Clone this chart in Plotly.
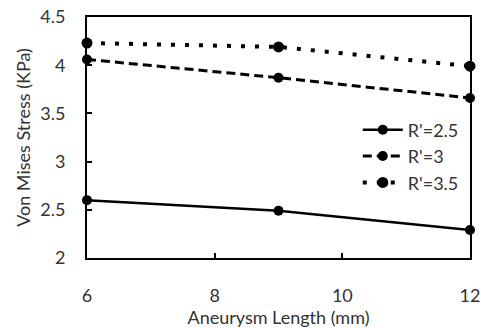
import plotly.graph_objects as go

x_len = [6, 9, 12]
s25 = [2.60, 2.49, 2.29]
s30 = [4.06, 3.87, 3.66]
s35 = [4.23, 4.19, 3.99]
names = ["R'=2.5", "R'=3", "R'=3.5"]
x_ticks = [6, 8, 10, 12]
y_ticks = [2, 2.5, 3, 3.5, 4, 4.5]
y_ticktext = ["2", "2.5", "3", "3.5", "4", "4.5"]

FONT = "Lato"
TXT = "#333333"
fig = go.Figure()
styles = [("solid", 2.5, 10), ("9px,5px", 3, 10), ("4px,10px", 4, 11)]
for ys, nm, (dash, w, ms) in zip([s25, s30, s35], names, styles):
    fig.add_trace(go.Scatter(
        x=x_len, y=ys, name=nm, mode="lines+markers",
        line=dict(color="black", width=w, dash=dash),
        marker=dict(color="black", size=ms, symbol="circle"),
        cliponaxis=False,
    ))

fig.update_layout(
    width=481, height=328,
    margin=dict(l=87, r=11, t=17, b=70, autoexpand=False),
    paper_bgcolor="white", plot_bgcolor="white",
    font=dict(family=FONT, size=18, color=TXT),
    showlegend=True,
    legend=dict(x=0.707, y=0.608, xanchor="left", yanchor="top",
                bgcolor="rgba(0,0,0,0)", font=dict(size=18, color=TXT),
                itemwidth=40, tracegroupgap=0),
)
fig.update_xaxes(
    range=[6, 12], tickvals=x_ticks, ticks="inside", ticklen=5, tickwidth=1.5,
    tickcolor="black", showline=True, linecolor="black", linewidth=2, mirror=True,
    showgrid=False, zeroline=False, ticklabelstandoff=20, ticklabeloverflow="allow",
    automargin=False,
    title=dict(text="Aneurysm Length (mm)", standoff=0, font=dict(size=18, color=TXT)),
    tickfont=dict(size=18, color=TXT),
)
fig.update_yaxes(
    range=[2, 4.5], tickvals=y_ticks, ticktext=y_ticktext,
    ticks="inside", ticklen=5, tickwidth=1.5,
    tickcolor="black", showline=True, linecolor="black", linewidth=2, mirror=True,
    showgrid=False, zeroline=False, ticklabelstandoff=16, ticklabeloverflow="allow",
    automargin=False,
    title=dict(text="Von Mises Stress (KPa)", standoff=5, font=dict(size=18, color=TXT)),
    tickfont=dict(size=18, color=TXT),
)
fig.write_html("out.html", config={"displayModeBar": False},
               post_script="document.body.style.margin='0';document.body.style.overflow='hidden';")
